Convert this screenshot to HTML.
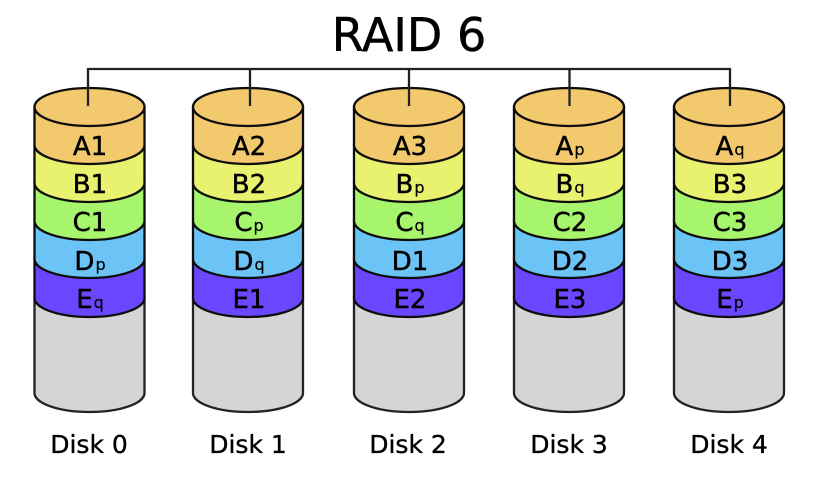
<!DOCTYPE html>
<html>
<head>
<meta charset="utf-8">
<style>
html,body{margin:0;padding:0;background:#fff;width:818px;height:488px;overflow:hidden}
svg{display:block}
text{font-family:"DejaVu Sans","Liberation Sans",sans-serif;fill:#000;stroke:#000;stroke-width:.45px}
.l{font-size:26px;text-anchor:middle}
.s{font-size:16px;stroke-width:.2px}
.d{font-size:25px;text-anchor:middle;stroke-width:.35px}
</style>
</head>
<body>
<svg width="818" height="488" viewBox="0 0 818 488" xmlns="http://www.w3.org/2000/svg">
<defs>
<filter id="b" x="-2%" y="-2%" width="104%" height="104%"><feGaussianBlur stdDeviation="0.35"/></filter>
<g id="disk" stroke="#111" stroke-width="2.3">
<path d="M-55 298V393A55 19 0 0 0 55 393V298Z" fill="#d5d5d5" stroke="#222"/>
<path d="M-55 259V298A55 19 0 0 0 55 298V259Z" fill="#6b47ff"/>
<path d="M-55 221V259A55 19 0 0 0 55 259V221Z" fill="#6cc3f5"/>
<path d="M-55 183V221A55 19 0 0 0 55 221V183Z" fill="#a6f56d"/>
<path d="M-55 145V183A55 19 0 0 0 55 183V145Z" fill="#e8f26e"/>
<path d="M-55 107V145A55 19 0 0 0 55 145V107Z" fill="#f3c96e"/>
<ellipse cx="0" cy="107" rx="55" ry="19" fill="#f3c96e"/>
</g>
</defs>
<g filter="url(#b)">
<text x="409" y="51" font-size="46" text-anchor="middle">RAID 6</text>
<use href="#disk" x="89.5"/>
<use href="#disk" x="248"/>
<use href="#disk" x="409"/>
<use href="#disk" x="569"/>
<use href="#disk" x="729"/>
<path d="M88 106V69H730V106M250 69V106M409 69V106M569.500 69V106" fill="none" stroke="#222" stroke-width="2.3"/>

<text class="l" x="90" y="155">A1</text>
<text class="l" x="90" y="193">B1</text>
<text class="l" x="90" y="231">C1</text>
<text class="l" x="90" y="270">D<tspan class="s" dx="1">p</tspan></text>
<text class="l" x="90" y="308">E<tspan class="s" dx="1">q</tspan></text>

<text class="l" x="249" y="155">A2</text>
<text class="l" x="249" y="193">B2</text>
<text class="l" x="249" y="231">C<tspan class="s" dx="1">p</tspan></text>
<text class="l" x="249" y="270">D<tspan class="s" dx="1">q</tspan></text>
<text class="l" x="249" y="308">E1</text>

<text class="l" x="410" y="155">A3</text>
<text class="l" x="410" y="193">B<tspan class="s" dx="1">p</tspan></text>
<text class="l" x="410" y="231">C<tspan class="s" dx="1">q</tspan></text>
<text class="l" x="410" y="270">D1</text>
<text class="l" x="410" y="308">E2</text>

<text class="l" x="570" y="155">A<tspan class="s" dx="1">p</tspan></text>
<text class="l" x="570" y="193">B<tspan class="s" dx="1">q</tspan></text>
<text class="l" x="570" y="231">C2</text>
<text class="l" x="570" y="270">D2</text>
<text class="l" x="570" y="308">E3</text>

<text class="l" x="730" y="155">A<tspan class="s" dx="1">q</tspan></text>
<text class="l" x="730" y="193">B3</text>
<text class="l" x="730" y="231">C3</text>
<text class="l" x="730" y="270">D3</text>
<text class="l" x="730" y="308">E<tspan class="s" dx="1">p</tspan></text>

<text class="d" x="89" y="453">Disk 0</text>
<text class="d" x="248" y="453">Disk 1</text>
<text class="d" x="408" y="453">Disk 2</text>
<text class="d" x="569" y="453">Disk 3</text>
<text class="d" x="729" y="453">Disk 4</text>
</g>
</svg>
</body>
</html>
